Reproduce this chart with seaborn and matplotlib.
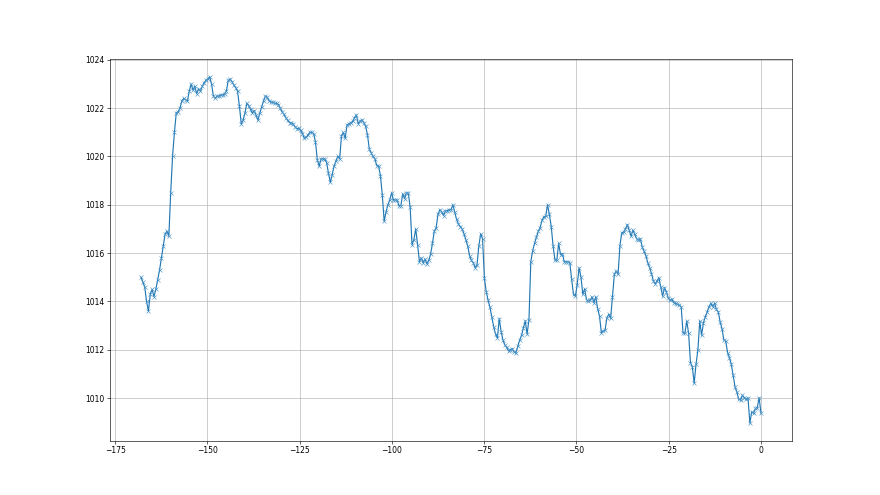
import numpy as np
import pandas as pd
import seaborn as sns
import matplotlib
matplotlib.use("Agg")
import matplotlib.pyplot as plt

pressure = [
    1015.0, 1014.8, 1014.6, 1014.0, 1013.6, 1014.3, 1014.5, 1014.2, 1014.5, 1014.9,
    1015.3, 1015.8, 1016.3, 1016.8, 1016.9, 1016.7, 1018.5, 1020.0, 1021.0, 1021.8,
    1021.85, 1022.0, 1022.3, 1022.4, 1022.35, 1022.3, 1022.7, 1023.0, 1022.75, 1022.9,
    1022.6, 1022.8, 1022.7, 1022.9, 1023.05, 1023.15, 1023.2, 1023.3, 1023.0, 1022.5,
    1022.4, 1022.5, 1022.5, 1022.55, 1022.55, 1022.6, 1022.7, 1023.15, 1023.2, 1023.1,
    1022.95, 1022.85, 1022.7, 1022.1, 1021.35, 1021.5, 1021.8, 1022.2, 1022.1, 1021.95,
    1021.8, 1021.9, 1021.7, 1021.5, 1021.8, 1022.05, 1022.3, 1022.5, 1022.45, 1022.3,
    1022.25, 1022.25, 1022.2, 1022.2, 1022.15, 1022.0, 1021.85, 1021.75, 1021.6, 1021.5,
    1021.4, 1021.38, 1021.35, 1021.22, 1021.15, 1021.17, 1021.08, 1020.95, 1020.75, 1020.8,
    1020.9, 1021.0, 1021.0, 1020.95, 1020.6, 1019.85, 1019.6, 1019.9, 1019.9, 1019.9,
    1019.75, 1019.3, 1018.93, 1019.25, 1019.6, 1019.8, 1020.0, 1019.9, 1020.85, 1021.0,
    1020.75, 1021.3, 1021.35, 1021.4, 1021.45, 1021.6, 1021.72, 1021.36, 1021.45, 1021.52,
    1021.4, 1021.25, 1020.9, 1020.3, 1020.15, 1020.0, 1019.9, 1019.62, 1019.6, 1019.2,
    1018.4, 1017.32, 1017.7, 1018.0, 1018.2, 1018.49, 1018.2, 1018.2, 1018.2, 1017.95,
    1017.97, 1018.45, 1018.25, 1018.49, 1018.49, 1017.9, 1016.35, 1016.55, 1017.0, 1016.35,
    1015.65, 1015.8, 1015.6, 1015.75, 1015.55, 1015.7, 1015.95, 1016.4, 1016.9, 1017.05,
    1017.6, 1017.8, 1017.7, 1017.55, 1017.75, 1017.75, 1017.8, 1017.8, 1018.0, 1017.7,
    1017.4, 1017.2, 1017.1, 1017.0, 1016.8, 1016.55, 1016.3, 1015.9, 1015.7, 1015.6,
    1015.4, 1015.5, 1016.3, 1016.8, 1016.6, 1014.95, 1014.4, 1014.05, 1013.75, 1013.35,
    1012.95, 1012.65, 1012.5, 1013.29, 1012.75, 1012.4, 1012.2, 1012.1, 1011.95, 1012.0,
    1012.05, 1011.9, 1011.88, 1012.15, 1012.4, 1012.6, 1012.9, 1013.2, 1012.65, 1013.25,
    1015.65, 1016.1, 1016.4, 1016.65, 1016.9, 1017.05, 1017.35, 1017.5, 1017.52, 1018.0,
    1017.6, 1017.1, 1016.3, 1015.71, 1015.71, 1016.4, 1015.94, 1015.98, 1015.65, 1015.64,
    1015.64, 1015.6, 1014.91, 1014.29, 1014.22, 1014.7, 1015.39, 1015.02, 1014.3, 1014.52,
    1014.08, 1014.0, 1014.05, 1014.19, 1013.95, 1014.19, 1013.7, 1013.4, 1012.7, 1012.77,
    1012.81, 1013.33, 1013.46, 1013.3, 1014.2, 1015.12, 1015.26, 1015.12, 1016.31, 1016.84,
    1016.87, 1017.0, 1017.18, 1016.95, 1016.7, 1016.95, 1016.78, 1016.6, 1016.53, 1016.59,
    1016.26, 1016.08, 1015.9, 1015.6, 1015.4, 1015.15, 1014.85, 1014.73, 1014.85, 1014.98,
    1014.6, 1014.22, 1014.57, 1014.4, 1014.15, 1014.05, 1014.1, 1013.95, 1013.92, 1013.88,
    1013.85, 1013.78, 1012.7, 1012.68, 1013.19, 1012.68, 1011.47, 1011.3, 1010.61, 1011.4,
    1011.99, 1013.19, 1012.6, 1013.12, 1013.37, 1013.56, 1013.78, 1013.92, 1013.78, 1013.92,
    1013.67, 1013.56, 1013.15, 1012.87, 1012.4, 1012.36, 1011.88, 1011.67, 1011.4, 1010.94,
    1010.47, 1010.25, 1009.95, 1009.92, 1010.12, 1010.02, 1009.95, 1010.0, 1008.96, 1009.43,
    1009.37, 1009.57, 1009.61, 1010.02, 1009.37,
]

# readings over the last week, hours relative to now
hours = np.linspace(-168, 0, len(pressure))

df = pd.DataFrame({"hours": hours, "pressure": pressure})

fig, ax = plt.subplots(figsize=(16, 9), dpi=55)
sns.lineplot(data=df, x="hours", y="pressure", marker="x", color="#1f77b4",
             markeredgecolor="#4a94c8", markeredgewidth=0.8, ax=ax)
ax.set_xlabel("")
ax.set_ylabel("")
ax.grid(True)

plt.savefig("out.png", dpi=55)
